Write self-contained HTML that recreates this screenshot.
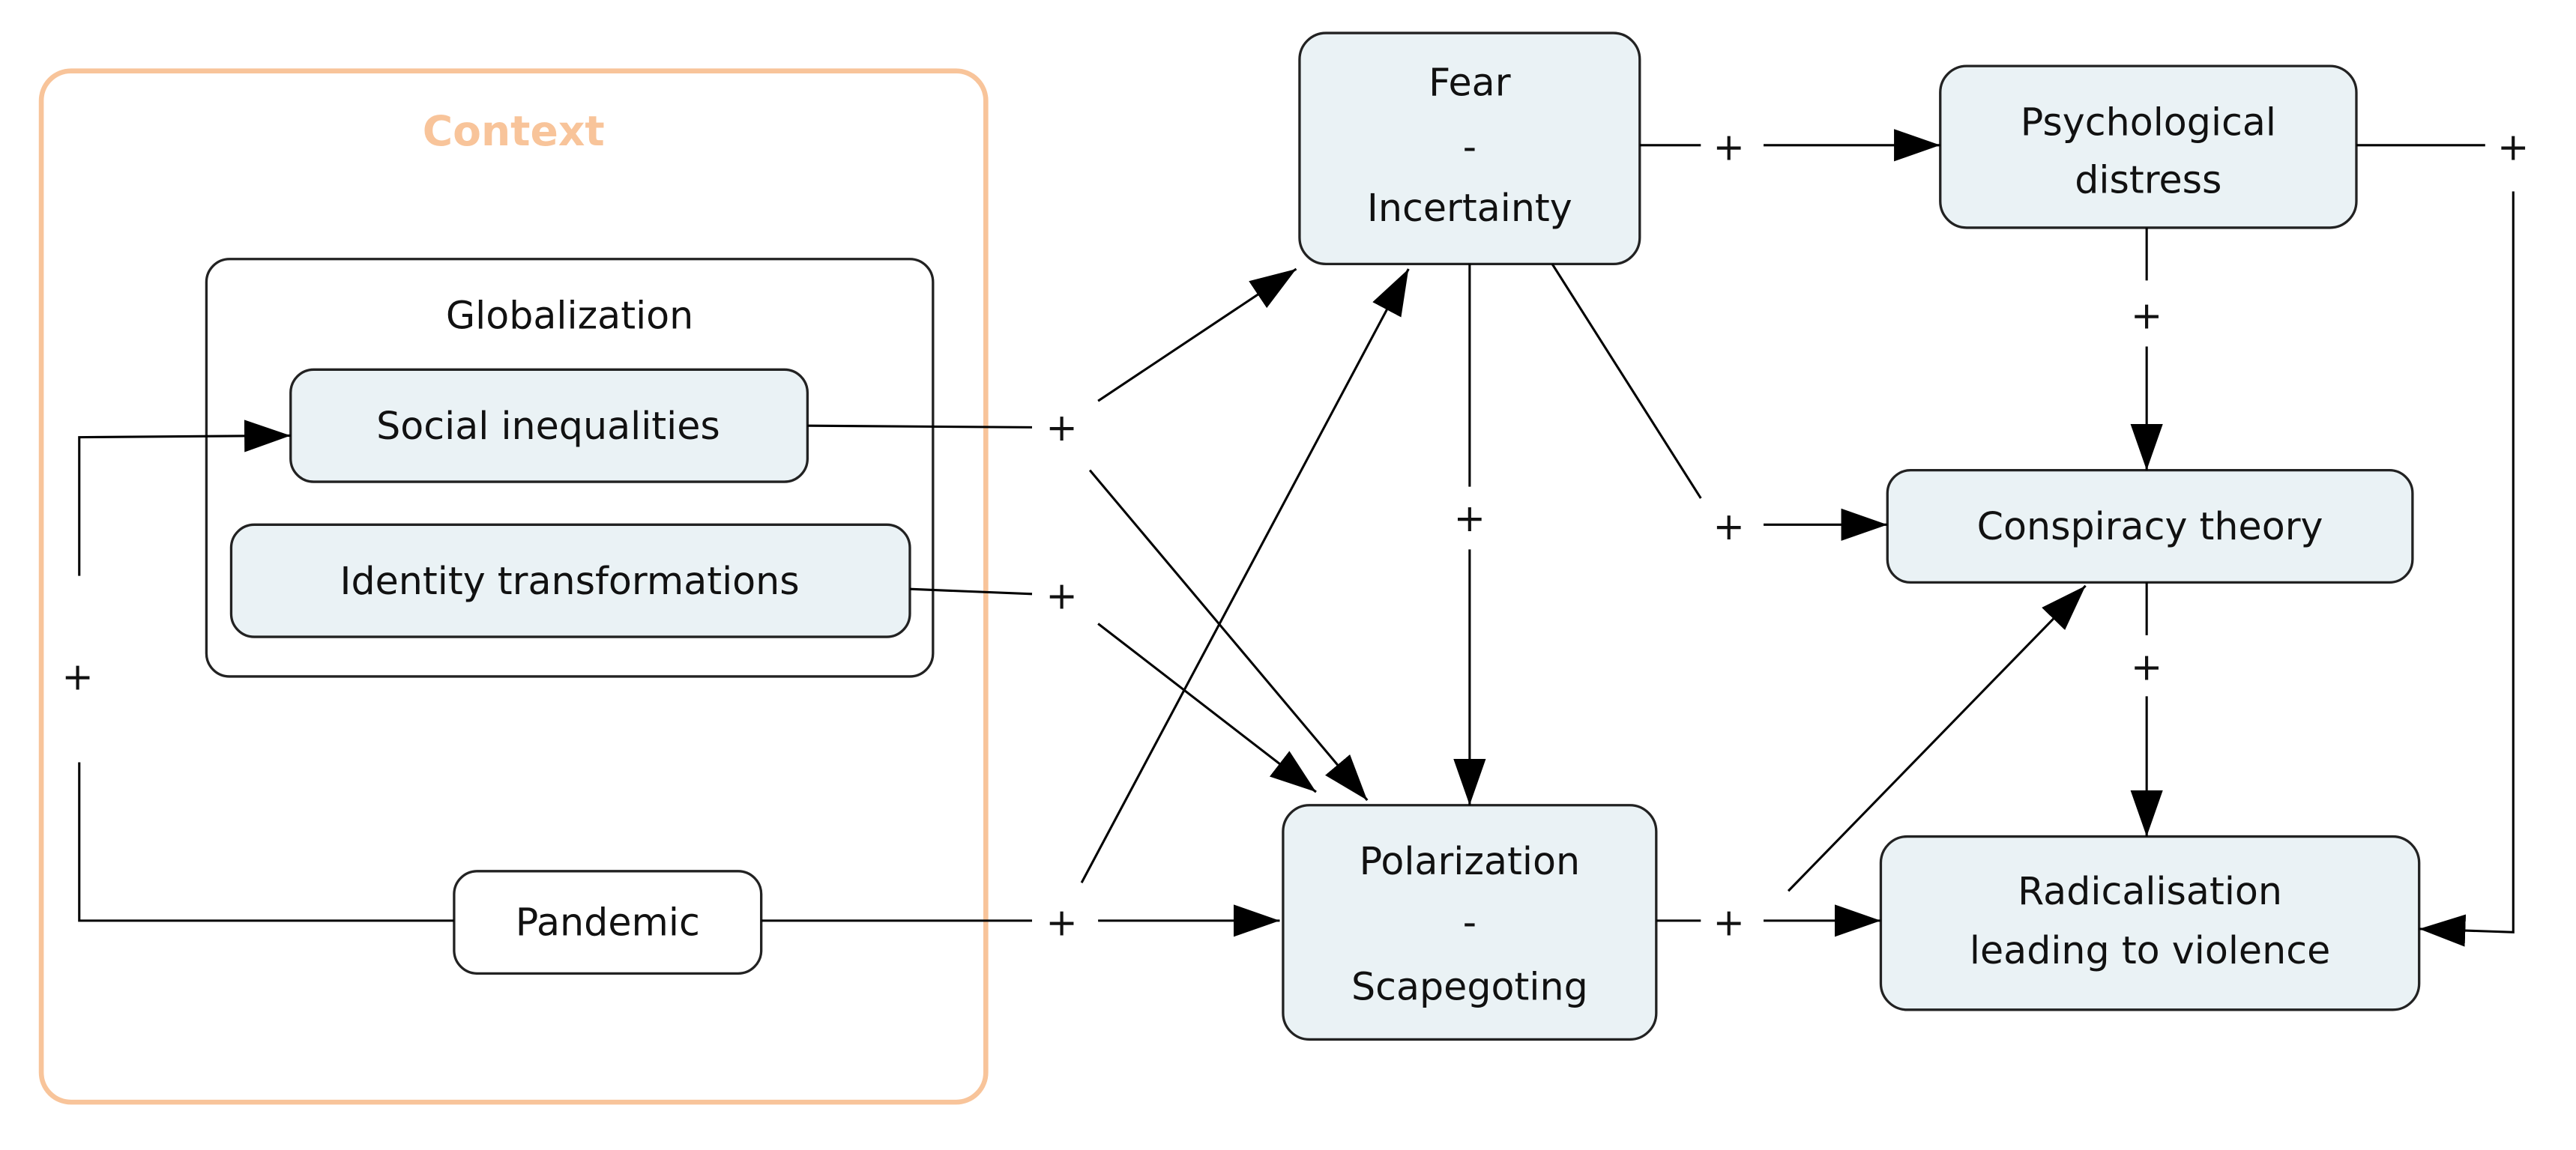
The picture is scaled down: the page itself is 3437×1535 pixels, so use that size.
<!DOCTYPE html>
<html><head><meta charset="utf-8"><style>
html,body{margin:0;padding:0;background:#fff;}
svg{display:block;}
text{font-family:"DejaVu Sans","Liberation Sans",sans-serif;fill:#111;}
</style></head><body>
<svg width="3437" height="1535" viewBox="0 0 1560 697" preserveAspectRatio="none" xmlns="http://www.w3.org/2000/svg">
<defs>
<marker id="a" viewBox="0 0 10 10" refX="10" refY="5" markerWidth="11" markerHeight="11" markerUnits="userSpaceOnUse" orient="auto"><path d="M0,0 L10,5 L0,10 z" fill="#000"/></marker>
<marker id="b" viewBox="0 0 10 10" refX="10" refY="5" markerWidth="28" markerHeight="28" markerUnits="userSpaceOnUse" orient="auto"><path d="M0,1.5 L10,5 L0,8.5 z" fill="#000"/></marker>
</defs>
<!-- Context -->
<rect x="25" y="43" width="572" height="625" rx="18" fill="none" stroke="#f8c49a" stroke-width="3"/>
<text x="311" y="88" font-size="25" font-weight="bold" text-anchor="middle" style="fill:#f8c49a">Context</text>
<!-- Globalization -->
<rect x="125" y="157" width="440" height="253" rx="14" fill="#fff" stroke="#222" stroke-width="1.5"/>
<text x="345" y="199" font-size="23" text-anchor="middle">Globalization</text>
<g stroke="#222" stroke-width="1.5" fill="#eaf2f5">
<rect x="176" y="224" width="313" height="68" rx="14"/>
<rect x="140" y="318" width="411" height="68" rx="14"/>
<rect x="275" y="528" width="186" height="62" rx="14" fill="#fff"/>
<rect x="787" y="20" width="206" height="140" rx="16"/>
<rect x="1175" y="40" width="252" height="98" rx="16"/>
<rect x="1143" y="285" width="318" height="68" rx="14"/>
<rect x="777" y="488" width="226" height="142" rx="16"/>
<rect x="1139" y="507" width="326" height="105" rx="16"/>
</g>
<g font-size="23" text-anchor="middle">
<text x="332" y="266">Social inequalities</text>
<text x="345" y="360">Identity transformations</text>
<text x="368" y="567">Pandemic</text>
<text x="890" y="58">Fear</text>
<text x="890" y="97">-</text>
<text x="890" y="134">Incertainty</text>
<text x="1301" y="82">Psychological</text>
<text x="1301" y="117">distress</text>
<text x="1302" y="327">Conspiracy theory</text>
<text x="890" y="530">Polarization</text>
<text x="890" y="567">-</text>
<text x="890" y="606">Scapegoting</text>
<text x="1302" y="548">Radicalisation</text>
<text x="1302" y="584">leading to violence</text>
</g>
<g font-size="23" text-anchor="middle">
<text x="47" y="418">+</text>
<text x="643" y="267">+</text>
<text x="643" y="369">+</text>
<text x="643" y="567">+</text>
<text x="1047" y="97">+</text>
<text x="890" y="322">+</text>
<text x="1047" y="327">+</text>
<text x="1300" y="199">+</text>
<text x="1522" y="97">+</text>
<text x="1300" y="412">+</text>
<text x="1047" y="567">+</text>
</g>
<g stroke="#000" stroke-width="1.4" fill="none">
<polyline points="48,349 48,265 176,264" marker-end="url(#b)"/>
<polyline points="48,462 48,558 275,558"/>
<line x1="489" y1="258" x2="625" y2="259"/>
<line x1="665" y1="243" x2="785" y2="163" marker-end="url(#b)"/>
<line x1="660" y1="285" x2="828" y2="485" marker-end="url(#b)"/>
<line x1="551" y1="357" x2="625" y2="360"/>
<line x1="665" y1="378" x2="797" y2="480" marker-end="url(#b)"/>
<line x1="461" y1="558" x2="625" y2="558"/>
<line x1="665" y1="558" x2="775" y2="558" marker-end="url(#b)"/>
<line x1="655" y1="535" x2="853" y2="163" marker-end="url(#b)"/>
<line x1="993" y1="88" x2="1030" y2="88"/>
<line x1="1068" y1="88" x2="1175" y2="88" marker-end="url(#b)"/>
<line x1="890" y1="160" x2="890" y2="295"/>
<line x1="890" y1="333" x2="890" y2="488" marker-end="url(#b)"/>
<line x1="940" y1="160" x2="1030" y2="302"/>
<line x1="1068" y1="318" x2="1143" y2="318" marker-end="url(#b)"/>
<line x1="1300" y1="138" x2="1300" y2="170"/>
<line x1="1300" y1="210" x2="1300" y2="285" marker-end="url(#b)"/>
<line x1="1427" y1="88" x2="1505" y2="88"/>
<polyline points="1522,116 1522,565 1465,563" marker-end="url(#b)"/>
<line x1="1300" y1="353" x2="1300" y2="385"/>
<line x1="1300" y1="422" x2="1300" y2="507" marker-end="url(#b)"/>
<line x1="1003" y1="558" x2="1030" y2="558"/>
<line x1="1068" y1="558" x2="1139" y2="558" marker-end="url(#b)"/>
<line x1="1083" y1="540" x2="1263" y2="355" marker-end="url(#b)"/>
</g>
</svg>
</body></html>
